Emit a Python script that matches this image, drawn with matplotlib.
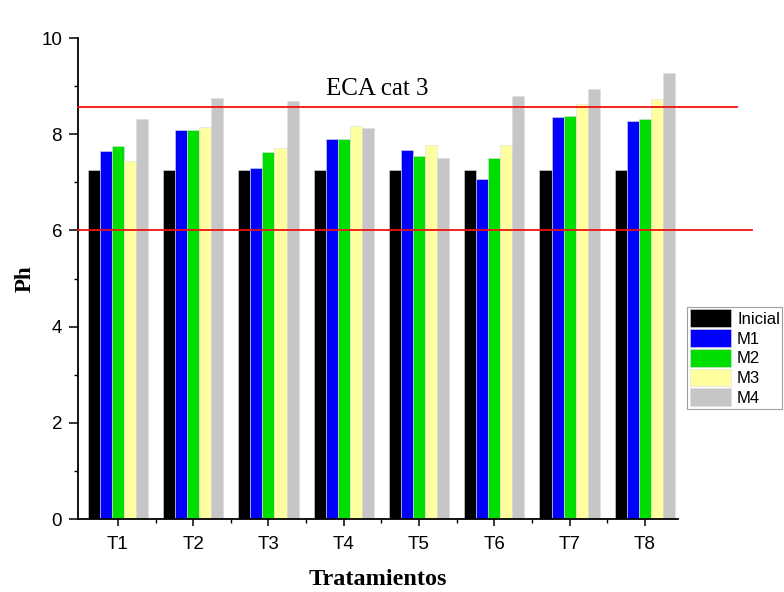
import matplotlib.pyplot as plt
import numpy as np

# ======================= datos =======================
tratamientos = ['T1', 'T2', 'T3', 'T4', 'T5', 'T6', 'T7', 'T8']
series = ['Inicial', 'M1', 'M2', 'M3', 'M4']
inicial = [7.26, 7.26, 7.26, 7.26, 7.26, 7.26, 7.26, 7.26]
m1 = [7.65, 8.08, 7.29, 7.90, 7.67, 7.06, 8.35, 8.27]
m2 = [7.76, 8.08, 7.63, 7.90, 7.55, 7.50, 8.38, 8.32]
m3 = [7.44, 8.15, 7.72, 8.17, 7.78, 7.78, 8.63, 8.73]
m4 = [8.31, 8.75, 8.69, 8.13, 7.51, 8.79, 8.93, 9.27]
eca_sup = 8.56
eca_inf = 6.0
# =====================================================

colores = ['#000000', '#0000ff', '#00dd00', '#ffffa0', '#c6c6c6']
valores = [inicial, m1, m2, m3, m4]

fig = plt.figure(figsize=(7.84, 5.92), dpi=100)
ax = fig.add_axes([0.0995, 0.1233, 0.7653, 0.8125])

x = np.arange(len(tratamientos))
w = 0.16
for i, (nombre, vals, c) in enumerate(zip(series, valores, colores)):
    ax.bar(x + (i - 2) * w, vals, w, color=c, edgecolor='#dddddd',
           linewidth=0.4, label=nombre, zorder=2)

# lineas ECA (se salen del eje hacia la derecha)
trans = ax.get_yaxis_transform()
ax.plot([0, 1.098], [eca_sup, eca_sup], color='#ee1111', lw=1.3,
        transform=trans, clip_on=False, zorder=3)
ax.plot([0, 1.123], [eca_inf, eca_inf], color='#ee1111', lw=1.3,
        transform=trans, clip_on=False, zorder=3)
ax.text(3.45, 8.93, 'ECA cat 3', fontsize=18, family='Liberation Serif',
        ha='center', va='center')

ax.set_xlim(-0.53, 7.44)
ax.set_ylim(0, 10)
ax.set_xticks(x)
ax.set_xticklabels(tratamientos, family='Liberation Sans', fontsize=13.5)
ax.set_xticks(x[:-1] + 0.5, minor=True)
ax.set_yticks([0, 2, 4, 6, 8, 10])
ax.set_yticks([1, 3, 5, 7, 9], minor=True)
for lab in ax.get_yticklabels():
    lab.set_family('Liberation Sans')
    lab.set_fontsize(13.5)
ax.tick_params(axis='y', which='major', length=6.5, width=1.1, direction='out', pad=5)
ax.tick_params(axis='y', which='minor', length=3, width=1.0, direction='out')
ax.tick_params(axis='x', which='major', length=5, width=1.1, direction='out', pad=7)
ax.tick_params(axis='x', which='minor', length=3, width=1.0, direction='out')
ax.spines['top'].set_visible(False)
ax.spines['right'].set_visible(False)
ax.spines['left'].set_linewidth(1.3)
ax.spines['bottom'].set_linewidth(1.3)

ax.set_xlabel('Tratamientos', family='Liberation Serif', fontweight='bold',
              fontsize=17.5, labelpad=12)
ax.set_ylabel('Ph', family='Liberation Serif', fontweight='bold',
              fontsize=16.5, labelpad=4)

leg = ax.legend(loc='upper left', bbox_to_anchor=(1.015, 0.441),
                prop={'family': 'Liberation Sans', 'size': 12},
                frameon=True, fancybox=False, edgecolor='#888888',
                handlelength=2.5, handleheight=1.26, handletextpad=0.35,
                labelspacing=0.12, borderpad=0.15, borderaxespad=0)
leg.get_frame().set_linewidth(0.8)

fig.savefig('out.png', dpi=100)
